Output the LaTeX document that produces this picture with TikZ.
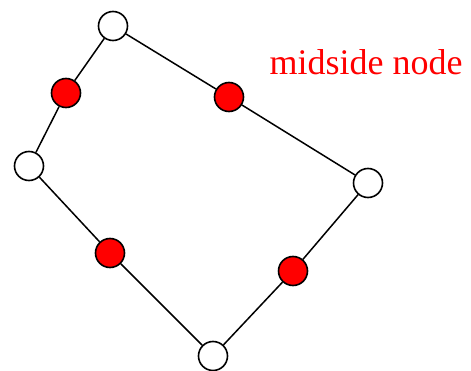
\documentclass[tikz,border=0pt]{standalone}
\usepackage{fontspec}
\setmainfont{Liberation Serif}
\usetikzlibrary{positioning}
\definecolor{cred}{HTML}{FF0000}
\tikzset{
  every picture/.style={line width=1.5pt},
  corner/.style={circle, draw=black, fill=white, minimum size=29pt, inner sep=0pt, line width=1.6pt},
  midside/.style={circle, draw=black, fill=cred, minimum size=29pt, inner sep=0pt, line width=1.6pt},
  edge/.style={draw=black, line width=1.5pt},
  label/.style={text=cred, font=\fontsize{36}{40}\selectfont, anchor=base, inner sep=0pt},
}

\begin{document}
\begin{tikzpicture}[x=1pt, y=-1pt]
  \useasboundingbox (0,0) rectangle (471,371);
  % corner nodes
  \node[corner] (c1) at (113,26) {};
  \node[corner] (c2) at (29,166) {};
  \node[corner] (c3) at (213,356) {};
  \node[corner] (c4) at (368,183) {};
  % midside nodes
  \node[midside] (m1) at (66,93) {};
  \node[midside] (m2) at (110,253) {};
  \node[midside] (m3) at (293,271) {};
  \node[midside] (m4) at (229,97) {};
  % edges
  \foreach \a/\m/\b in {c1/m1/c2, c2/m2/c3, c3/m3/c4, c4/m4/c1} {
    \draw[edge] (\a) -- (\m) -- (\b);
  }
  \node[label] (lbl) at (366,75) {midside node};
\end{tikzpicture}
\end{document}
